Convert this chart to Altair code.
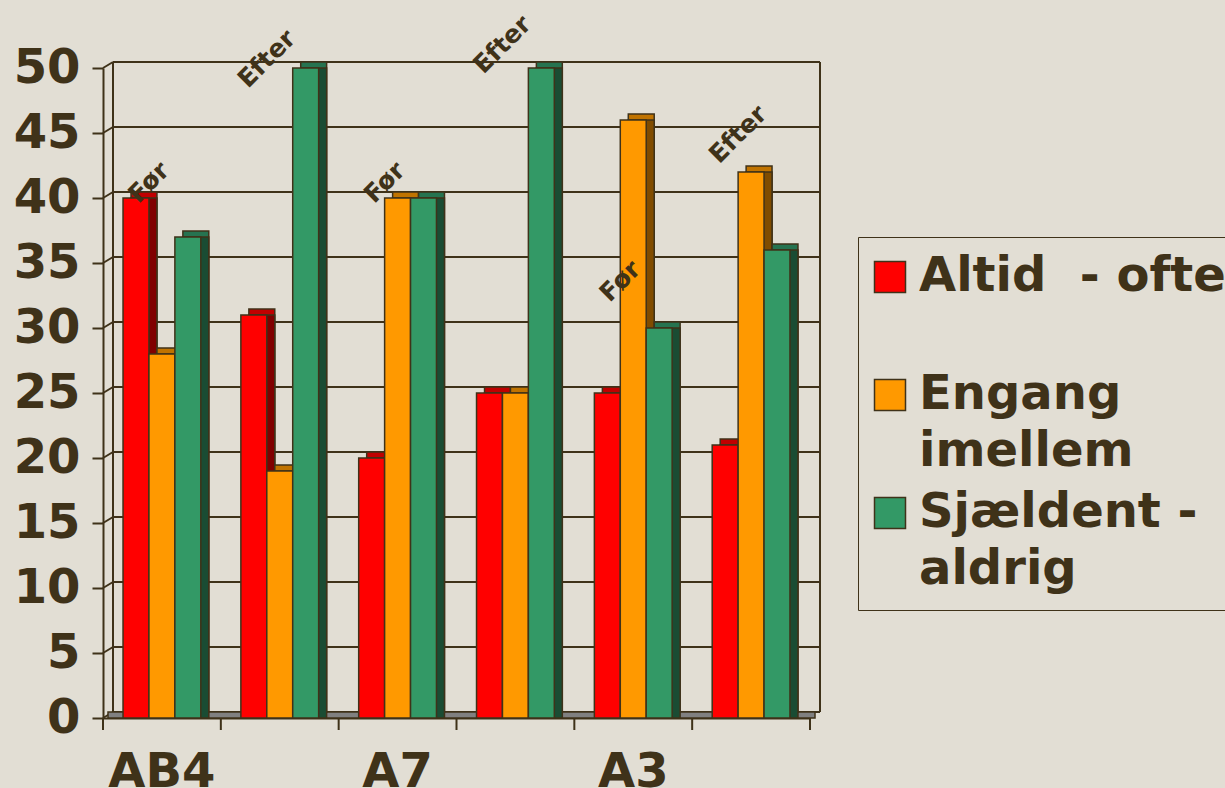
import altair as alt
import pandas as pd

# ---- data ----
groups = ["AB4", "AB4", "A7", "A7", "A3", "A3"]
periods = ["Før", "Efter", "Før", "Efter", "Før", "Efter"]
series = ["Altid  - ofte", "Engang imellem", "Sjældent - aldrig"]
altid = [40, 31, 20, 25, 25, 21]
engang = [28, 19, 40, 25, 46, 42]
sjaeldent = [37, 50, 40, 50, 30, 36]
# rotated period labels: y position in data units
label_y = [41.2, 50.7, 41.2, 51.8, 33.6, 44.9]
y_ticks = [0, 5, 10, 15, 20, 25, 30, 35, 40, 45, 50]

front_colors = ["#FF0000", "#FF9900", "#339966"]
top_colors = ["#C00000", "#C07300", "#267350"]
side_colors = ["#800000", "#804C00", "#1A4C33"]
INK = "#3F3219"
BG = "#E2DED4"
FONT = "DejaVu Sans"

keys = [f"{g} {p}" for g, p in zip(groups, periods)]
rows = []
for i, k in enumerate(keys):
    for s, vals in zip(series, [altid, engang, sjaeldent]):
        rows.append({"key": k, "series": s, "value": vals[i]})
df = pd.DataFrame(rows)
lab_df = pd.DataFrame({"key": keys, "text": periods, "y": label_y})
tick_df = pd.DataFrame({"v": y_ticks})
key_df = pd.DataFrame({"key": keys})
frame_df = pd.DataFrame({"top": [max(y_ticks)], "bottom": [min(y_ticks)]})

W, H = 707, 650
DX, DY = 10, -6
PAD_IN = 0.34
STEP = W / len(keys)
BW = STEP * (1 - PAD_IN) / len(series)  # width of one bar
DEPTH = 8

yscale = alt.Scale(domain=[0, 50], nice=False, zero=True)
xscale = alt.Scale(domain=keys, paddingInner=PAD_IN, paddingOuter=PAD_IN / 2)

legend = alt.Legend(
    title=None, orient="none", legendX=755, legendY=169,
    labelFont=FONT, labelFontSize=48, labelFontWeight="bold", labelColor=INK,
    labelLimit=1000, labelOffset=5, symbolOffset=-8,
    labelExpr="datum.label == 'Engang imellem' ? ['Engang', 'imellem'] : datum.label == 'Sjældent - aldrig' ? ['Sjældent -', 'aldrig'] : ['Altid\u00a0 - ofte', '']",
    symbolType="square", symbolSize=961, symbolStrokeColor=INK, symbolStrokeWidth=1.5,
    symbolOpacity=1, fillColor=BG, strokeColor=INK, padding=16, rowPadding=13,
)
fill_enc = alt.Fill("series:N", sort=series, scale=alt.Scale(domain=series, range=front_colors), legend=legend)

x_axis = alt.Axis(
    labelExpr="indexof(datum.label, 'Før') >= 0 ? split(datum.label, ' ')[0] : ''",
    labelAngle=0, labelFont=FONT, labelFontSize=48, labelFontWeight="bold",
    labelColor=INK, labelPadding=30, ticks=False, domain=True,
    domainColor=INK, domainWidth=2, grid=False, labelBaseline="top", title=None,
)
y_axis = alt.Axis(
    values=y_ticks, labelFont=FONT, labelFontSize=48, labelFontWeight="bold",
    labelColor=INK, tickColor=INK, tickSize=11, tickWidth=2, labelPadding=12,
    domainColor=INK, domainWidth=2, grid=False, title=None,
)


def X(field, **kw):
    return alt.X(field, sort=keys, scale=xscale, axis=x_axis, title=None, **kw)


def Y(field):
    return alt.Y(field, scale=yscale, axis=y_axis, title=None)


grid = alt.Chart(tick_df).mark_rule(color=INK, strokeWidth=2, yOffset=DY).encode(
    y=Y("v:Q"), x=alt.value(DX), x2=alt.value(W + DX)
)
connectors = alt.Chart(tick_df).mark_rule(color=INK, strokeWidth=2, y2Offset=DY).encode(
    y=Y("v:Q"), y2="v:Q", x=alt.value(0), x2=alt.value(DX)
)
wall_l = alt.Chart(frame_df).mark_rule(color=INK, strokeWidth=2, yOffset=DY, y2Offset=DY).encode(
    y=Y("top:Q"), y2="bottom:Q", x=alt.value(DX)
)
wall_r = alt.Chart(frame_df).mark_rule(color=INK, strokeWidth=2, yOffset=DY, y2Offset=DY).encode(
    y=Y("top:Q"), y2="bottom:Q", x=alt.value(W + DX)
)
floor = alt.Chart(frame_df).mark_rect(color="#808080", stroke=INK, strokeWidth=1.5, y2Offset=DY).encode(
    y=Y("bottom:Q"), y2="bottom:Q", x=alt.value(5), x2=alt.value(W + 5)
)
xticks = alt.Chart(key_df).mark_rule(color=INK, strokeWidth=2, xOffset=-STEP / 2).encode(
    x=X("key:N"), y=alt.value(H), y2=alt.value(H + 12),
)
xtick_end = alt.Chart(frame_df).mark_rule(color=INK, strokeWidth=2).encode(
    x=alt.value(W), y=alt.value(H), y2=alt.value(H + 12),
)

# 3-D faces: top face (shifted up and right) and side face (shifted right)
depth_layers = []
for i, s in enumerate(series):
    shift = (i - (len(series) - 1) / 2) * BW + DEPTH
    base = alt.Chart(df).transform_filter(alt.datum.series == s)
    depth_layers.append(
        base.mark_bar(width=BW, xOffset=shift, yOffset=DY, y2Offset=DY,
                      fill=top_colors[i], stroke=INK, strokeWidth=1.5).encode(
            x=X("key:N"), y=Y("value:Q"))
    )
    depth_layers.append(
        base.mark_bar(width=BW, xOffset=shift, fill=side_colors[i], stroke=INK, strokeWidth=1.5).encode(
            x=X("key:N"), y=Y("value:Q"))
    )

front = alt.Chart(df).mark_bar(stroke=INK, strokeWidth=1.5).encode(
    x=X("key:N"),
    xOffset=alt.XOffset("series:N", sort=series),
    y=Y("value:Q"),
    fill=fill_enc,
)
texts = alt.Chart(lab_df).mark_text(
    angle=315, font=FONT, fontSize=25, fontWeight="bold", color=INK, xOffset=-13,
    align="center", baseline="middle",
).encode(
    x=X("key:N"), y=Y("y:Q"), text="text:N",
)

chart = alt.layer(
    grid, connectors, wall_l, wall_r, floor, xticks, xtick_end, *depth_layers, front, texts
).properties(
    width=W, height=H,
    background=BG,
    padding={"left": 103, "top": 68, "right": 415, "bottom": 70},
    autosize=alt.AutoSizeParams(type="none"),
).configure(
    view=alt.ViewConfig(strokeWidth=0),
    style={"guide-label": {"lineHeight": 57}},
)

chart.save("out.html", embed_options={"renderer": "svg", "actions": False})
